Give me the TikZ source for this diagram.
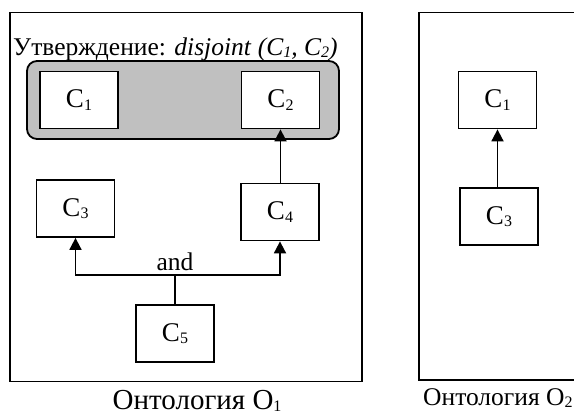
\documentclass[tikz,border=0pt]{standalone}
\usepackage{fontspec}
\setmainfont{Liberation Serif}
\usetikzlibrary{arrows.meta}
\newcommand{\mysub}[1]{\raisebox{-0.1em}{\fontsize{16}{16}\selectfont #1}}
\tikzset{
  cbox/.style={draw, line width=1.8pt, fill=white, minimum width=78pt, minimum height=57pt, inner sep=0pt, font=\fontsize{27}{29}\selectfont},
  frame/.style={draw, line width=1.8pt},
  arr/.style={line width=1.8pt, -{Triangle[width=12pt,length=12pt]}},
  lbl/.style={inner sep=0pt, font=\fontsize{25.5}{28}\selectfont}
}
\begin{document}
\begin{tikzpicture}[x=1pt,y=-1pt]
\useasboundingbox (0,0) rectangle (574,415);
\clip (0,0) rectangle (574,415);
% frames
\draw[frame] (10,12.5) rectangle (362,381.5);
\draw[frame] (419,12.5) rectangle (620,380);
% title
\node[lbl, anchor=base west] (title) at (13,55) {Утверждение: \textit{disjoint} \textit{(C\mysub{\textit{1}}, C\mysub{\textit{2}})}};
% gray group
\draw[line width=1.8pt, fill={rgb,255:red,192;green,192;blue,192}, rounded corners=10pt] (27,61) rectangle (339,139);
% nodes left
\node[cbox] (c1) at (79,100) {C\mysub{1}};
\node[cbox] (c2) at (280.5,100) {C\mysub{2}};
\node[cbox] (c3) at (75.5,208.5) {C\mysub{3}};
\node[cbox] (c4) at (280,212) {C\mysub{4}};
\node[cbox] (c5) at (175,333.5) {C\mysub{5}};
\draw[arr] (c4.north -| c2.south) -- (c2.south);
\coordinate (j) at (175,275);
\draw[line width=1.8pt] (c5.north) -- (j);
\draw[arr] (j) -| (c3.south);
\draw[arr] (j) -| (c4.south);
\node[lbl, anchor=base] (and) at (175,270) {and};
% caption left
\node[lbl, anchor=base west, font=\fontsize{29}{31}\selectfont] (cap1) at (112.5,409) {Онтология O\mysub{1}};
% right
\node[cbox] (r1) at (497.5,100) {C\mysub{1}};
\node[cbox] (r3) at (499,216.5) {C\mysub{3}};
\draw[arr] (r3.north -| r1.south) -- (r1.south);
\node[lbl, anchor=base west, font=\fontsize{25.5}{28}\selectfont] (cap2) at (423,405) {Онтология O\mysub{2}};
\end{tikzpicture}
\end{document}
